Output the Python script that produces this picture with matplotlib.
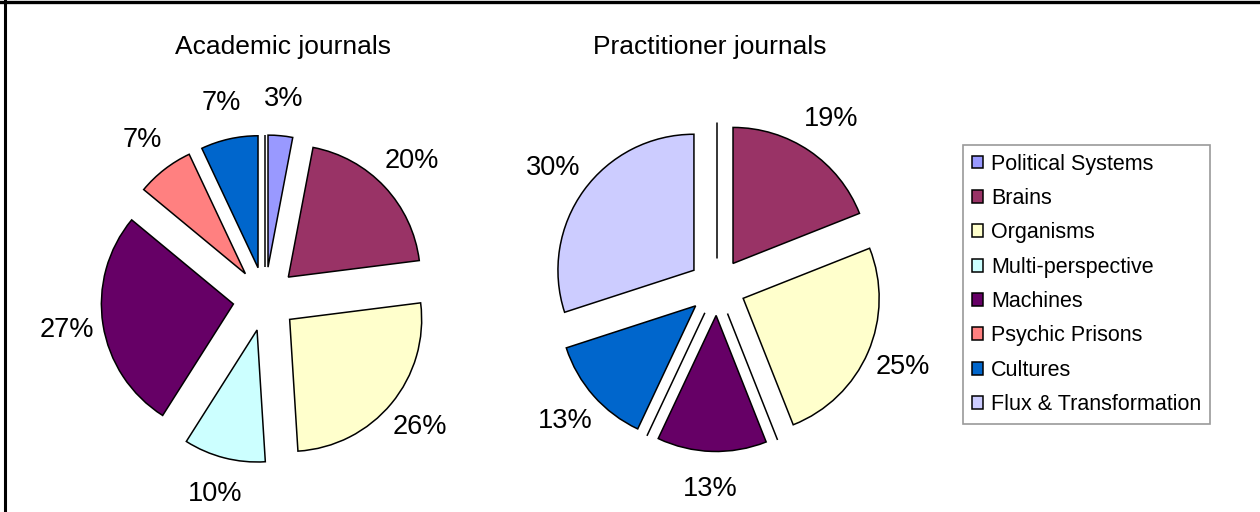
import matplotlib
matplotlib.use("Agg")
import matplotlib.pyplot as plt
from matplotlib.lines import Line2D

plt.rcParams['font.family'] = ['Liberation Sans', 'DejaVu Sans']

# metaphor categories and share of articles (%)
categories = ['Political Systems', 'Brains', 'Organisms', 'Multi-perspective',
              'Machines', 'Psychic Prisons', 'Cultures', 'Flux & Transformation']
academic = [3, 20, 26, 10, 27, 7, 7, 0]
practitioner = [0, 19, 25, 0, 13, 0, 13, 30]
titles = ['Academic journals', 'Practitioner journals']

colors = ['#9999FF', '#993366', '#FFFFCC', '#CCFFFF',
          '#660066', '#FF8080', '#0066CC', '#CCCCFF']

W, H = 1260, 512
fig = plt.figure(figsize=(W / 100, H / 100), dpi=100)
ax = fig.add_axes([0, 0, 1, 1])
ax.set_xlim(0, W)
ax.set_ylim(0, H)
ax.set_aspect('equal')
ax.axis('off')


def pct(v):
    return '' if v < 0.5 else '%d%%' % round(v)


# (center, radius, explode offset, title position) for each pie
layout = [((265, H - 299), 132, 32, (283, H - 47)),
          ((717, H - 287), 136, 28.5, (710, H - 47))]

wedges_all = []
for vals, title, (c, r, ex, tpos) in zip([academic, practitioner], titles, layout):
    wedges, texts, autotexts = ax.pie(
        vals, colors=colors, startangle=90, counterclock=False,
        center=c, radius=r, explode=[ex] * len(vals),
        autopct=pct, pctdistance=1.28, frame=True,
        wedgeprops=dict(edgecolor='black', linewidth=1.1))
    for t in autotexts:
        t.set_fontsize(19.5)
        t.set_color('black')
    ax.text(tpos[0], tpos[1], title, ha='center', va='center', fontsize=19)
    wedges_all.append(wedges)

ax.set_xlim(0, W)
ax.set_ylim(0, H)
ax.axis('off')

leg = fig.legend(wedges_all[0], categories, loc='upper left',
                 bbox_to_anchor=(963 / W, 1 - 145 / H), borderaxespad=0,
                 fontsize=15.5, frameon=True, fancybox=False, shadow=False,
                 handlelength=0.55, handleheight=0.55, handletextpad=0.35,
                 labelspacing=0.62, borderpad=0.4)
leg.get_frame().set_edgecolor('#808080')
leg.get_frame().set_linewidth(1.2)

# outer border (top and left edges)
fig.add_artist(Line2D([0, 1], [1 - 1.5 / H, 1 - 1.5 / H], color='black',
                      linewidth=2.4, transform=fig.transFigure))
fig.add_artist(Line2D([4.5 / W, 4.5 / W], [0, 1], color='black',
                      linewidth=2.2, transform=fig.transFigure))

fig.savefig('out.png', dpi=100)
